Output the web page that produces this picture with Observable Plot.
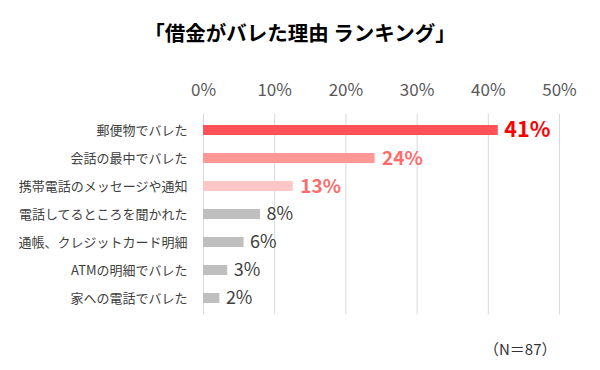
<!DOCTYPE html>
<html><head><meta charset="utf-8">
<script src="https://cdn.jsdelivr.net/npm/d3@7"></script>
<script src="https://cdn.jsdelivr.net/npm/@observablehq/plot@0.6"></script>
<style>
body{margin:0;background:#fff;font-family:"Noto Sans CJK JP","Noto Sans",sans-serif;}
#wrap{width:600px;height:370px;position:relative;}
#title{height:60px;line-height:64px;text-align:center;font-size:20.5px;font-weight:bold;color:#000;}
#cap{position:absolute;left:484px;top:338px;font-size:15px;color:#333;}
</style></head><body>
<div id="wrap">
<div id="title">「借金がバレた理由 ランキング」</div>
<div id="chart"></div>
<div id="cap">（N＝87）</div>
</div>
<script>
const reasons = ["郵便物でバレた","会話の最中でバレた","携帯電話のメッセージや通知","電話してるところを聞かれた","通帳、クレジットカード明細","ATMの明細でバレた","家への電話でバレた"];
const values = [41.4, 24.1, 12.6, 8.0, 5.7, 3.4, 2.3];
const valueLabels = ["41%","24%","13%","8%","6%","3%","2%"];
const xTicks = [0,10,20,30,40,50];

const barColors = ["#ff5157","#ff9797","#ffc6c6","#bfbfbf","#bfbfbf","#bfbfbf","#bfbfbf"];

const data = reasons.map((r,i)=>({reason:r, value:values[i], label:valueLabels[i], i}));
const rest = data.filter(d=>d.i>=3);

const chart = Plot.plot({
  width:600, height:270,
  marginTop:53.7, marginBottom:15.7, marginLeft:203, marginRight:41,
  style:{fontFamily:'"Noto Sans CJK JP","Noto Sans",sans-serif', background:"#fff"},
  x:{domain:[0,50], ticks:xTicks},
  y:{domain:reasons, paddingInner:0.65, paddingOuter:0.325},
  color:{domain:reasons, range:barColors},
  marks:[
    Plot.gridX(xTicks,{stroke:"#d9d9d9", strokeOpacity:1}),
    Plot.axisX({anchor:"top", ticks:xTicks, tickSize:0, tickPadding:18, tickFormat:d=>d+"%", fontSize:17, fill:"#595959", label:null}),
    Plot.axisY({tickSize:0, tickPadding:16, fontSize:13, fill:"#404040", label:null}),
    Plot.barX(data,{x:"value", y:"reason", fill:"reason"}),
    Plot.text(data.filter(d=>d.i===0),{x:"value", y:"reason", text:"label", textAnchor:"start", dx:6, fill:"#ff0000", fontWeight:"bold", fontSize:21.5}),
    Plot.text(data.filter(d=>d.i===1||d.i===2),{x:"value", y:"reason", text:"label", textAnchor:"start", dx:7, fill:"#ff6b6b", fontWeight:"bold", fontSize:19}),
    Plot.text(rest,{x:"value", y:"reason", text:"label", textAnchor:"start", dx:6, fill:"#404040", fontSize:18})
  ]
});
document.getElementById("chart").appendChild(chart);
</script>
</body></html>
